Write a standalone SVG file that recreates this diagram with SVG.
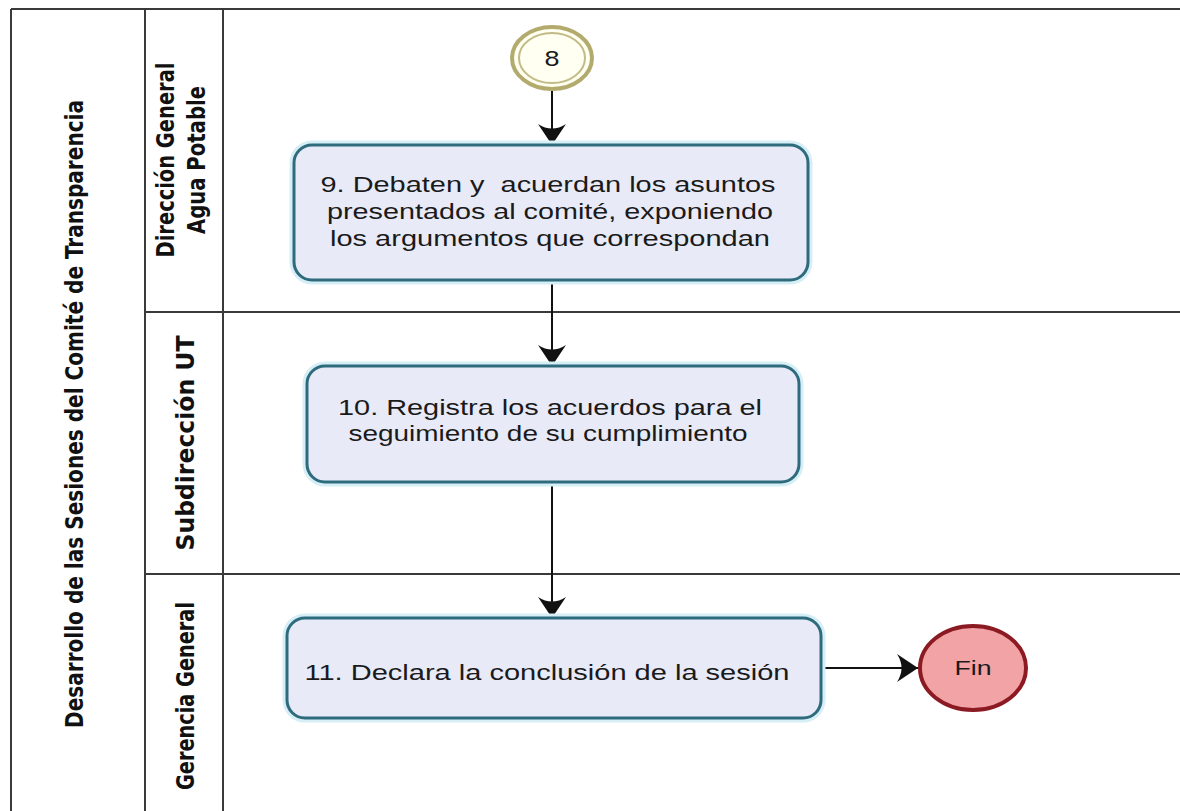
<svg xmlns="http://www.w3.org/2000/svg" width="1180" height="811" viewBox="0 0 1180 811">
<style>
.lane{stroke:#3a3a3a;stroke-width:2;fill:none}
.lbl{font-family:"Liberation Sans Narrow","DejaVu Sans Condensed","Liberation Sans",sans-serif;font-weight:bold;font-size:25px;fill:#111}
.task{fill:#e8eaf8;stroke:#2e6b7c;stroke-width:3}
.glow{fill:none;stroke:#d6eef6;stroke-width:9}
.tt{font-family:"Liberation Sans",Arial,sans-serif;font-size:22px;fill:#1a1a1a}
.flow{stroke:#111;stroke-width:2;fill:none}
</style>
<defs>
<marker id="arr" viewBox="-22 -15 23 30" refX="0" refY="0" markerWidth="23" markerHeight="30" markerUnits="userSpaceOnUse" orient="auto">
<path d="M0,0 L-21,-14 Q-12,0 -21,14 Z" fill="#111"/>
</marker>
</defs>
<rect width="1180" height="811" fill="#ffffff"/>
<g id="pool">
<line class="lane" x1="11" y1="9" x2="1180" y2="9"/>
<line class="lane" x1="11" y1="9" x2="11" y2="811"/>
<line class="lane" x1="145" y1="9" x2="145" y2="811"/>
<line class="lane" x1="223" y1="9" x2="223" y2="811"/>
<line class="lane" x1="145" y1="312" x2="1180" y2="312"/>
<line class="lane" x1="145" y1="574" x2="1180" y2="574"/>
<text class="lbl" transform="translate(83,414) rotate(-90)" text-anchor="middle" textLength="628" lengthAdjust="spacingAndGlyphs">Desarrollo de las Sesiones del Comité de Transparencia</text>
</g>
<g id="lane1">
<text class="lbl" transform="translate(174,160) rotate(-90)" text-anchor="middle" textLength="195" lengthAdjust="spacingAndGlyphs">Dirección General</text>
<text class="lbl" transform="translate(205,160) rotate(-90)" text-anchor="middle" textLength="148" lengthAdjust="spacingAndGlyphs">Agua Potable</text>
</g>
<g id="lane2">
<text class="lbl" transform="translate(194,443) rotate(-90)" text-anchor="middle" textLength="215" lengthAdjust="spacingAndGlyphs">Subdirección UT</text>
</g>
<g id="lane3">
<text class="lbl" transform="translate(194,696) rotate(-90)" text-anchor="middle" textLength="188" lengthAdjust="spacingAndGlyphs">Gerencia General</text>
</g>
<g id="connectors">
<line class="flow" x1="552" y1="89" x2="552" y2="145" marker-end="url(#arr)"/>
<line class="flow" x1="552" y1="280" x2="552" y2="366" marker-end="url(#arr)"/>
<line class="flow" x1="552" y1="482" x2="552" y2="618" marker-end="url(#arr)"/>
<line class="flow" x1="821" y1="668" x2="918" y2="668" marker-end="url(#arr)"/>
</g>
<g id="start8">
<ellipse cx="552" cy="58" rx="40" ry="31" fill="#fffff2" stroke="#b3ab6e" stroke-width="4"/>
<ellipse cx="552" cy="58" rx="33" ry="25" fill="none" stroke="#c2bb86" stroke-width="2"/>
<text x="552" y="66" text-anchor="middle" font-family="Liberation Sans, Arial, sans-serif" font-size="22" fill="#1a1a1a" textLength="15" lengthAdjust="spacingAndGlyphs">8</text>
</g>
<g id="task9">
<rect class="glow" x="294" y="145" width="514" height="135" rx="18"/>
<rect class="task" x="294" y="145" width="514" height="135" rx="18"/>
<text class="tt" x="548" y="192" text-anchor="middle" textLength="455" lengthAdjust="spacingAndGlyphs" xml:space="preserve">9. Debaten y  acuerdan los asuntos</text>
<text class="tt" x="550" y="219" text-anchor="middle" textLength="446" lengthAdjust="spacingAndGlyphs">presentados al comité, exponiendo</text>
<text class="tt" x="550" y="246" text-anchor="middle" textLength="440" lengthAdjust="spacingAndGlyphs">los argumentos que correspondan</text>
</g>
<g id="task10">
<rect class="glow" x="307" y="366" width="492" height="116" rx="18"/>
<rect class="task" x="307" y="366" width="492" height="116" rx="18"/>
<text class="tt" x="550" y="415" text-anchor="middle" textLength="424" lengthAdjust="spacingAndGlyphs">10. Registra los acuerdos para el</text>
<text class="tt" x="548" y="441" text-anchor="middle" textLength="399" lengthAdjust="spacingAndGlyphs">seguimiento de su cumplimiento</text>
</g>
<g id="task11">
<rect class="glow" x="287" y="618" width="534" height="100" rx="18"/>
<rect class="task" x="287" y="618" width="534" height="100" rx="18"/>
<text class="tt" x="547" y="680" text-anchor="middle" textLength="485" lengthAdjust="spacingAndGlyphs">11. Declara la conclusión de la sesión</text>
</g>
<g id="fin">
<ellipse cx="973" cy="668" rx="53" ry="42" fill="#f2a3a6" stroke="#8c1a22" stroke-width="4"/>
<text x="973" y="675" text-anchor="middle" font-family="Liberation Sans, Arial, sans-serif" font-size="20" fill="#1a1a1a" textLength="37" lengthAdjust="spacingAndGlyphs">Fin</text>
</g>
</svg>
